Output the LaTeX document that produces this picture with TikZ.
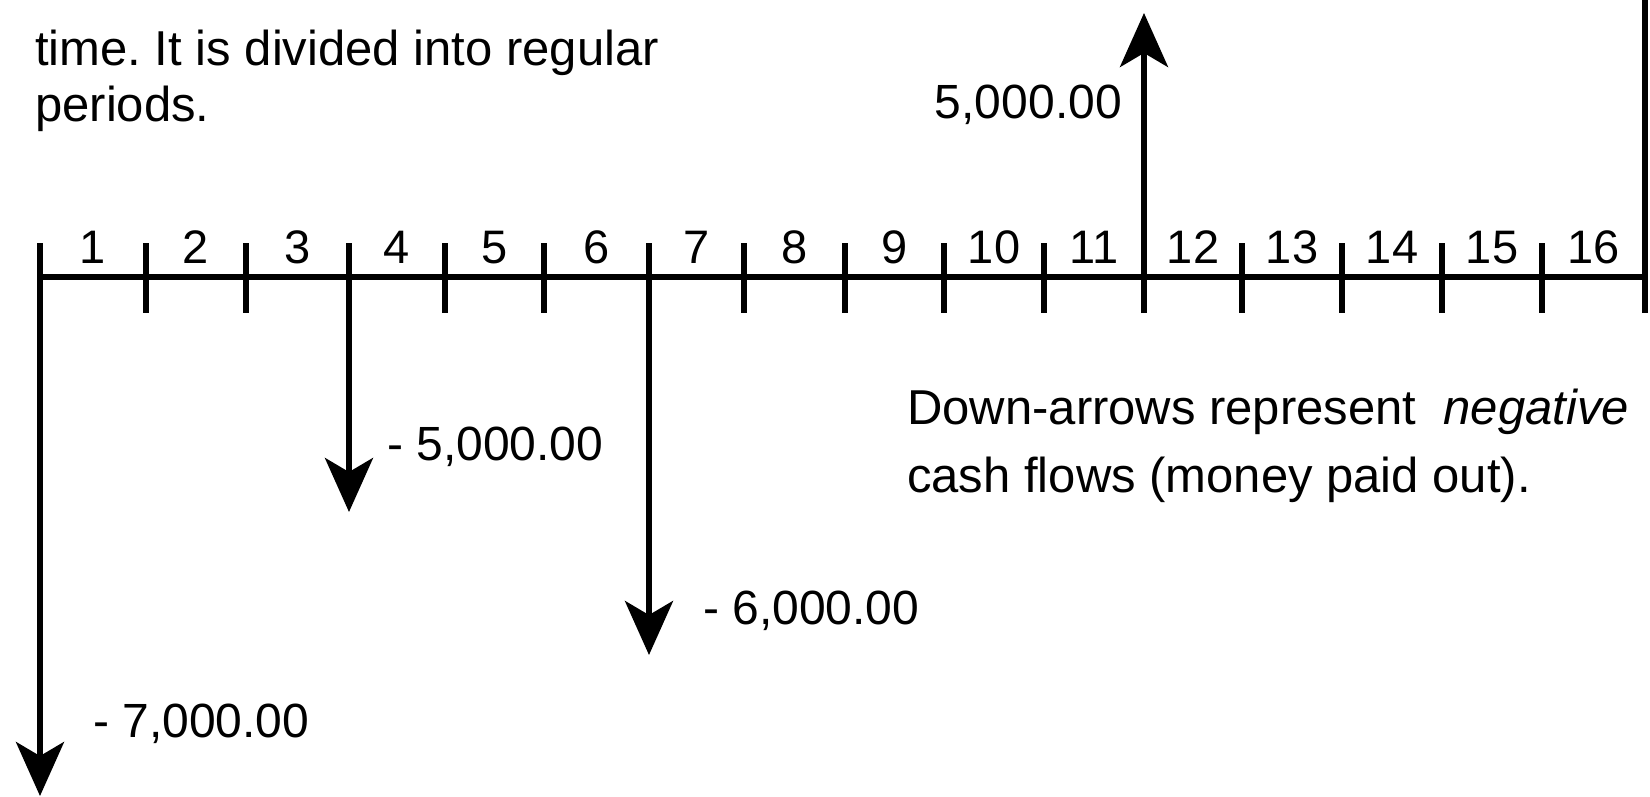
\documentclass[tikz,border=0pt]{standalone}
\usepackage{fontspec}
\setmainfont{Liberation Sans}
\usetikzlibrary{arrows.meta}
\frenchspacing
\begin{document}
\begin{tikzpicture}[x=1pt,y=-1pt,
  axisline/.style={line width=6.5pt},
  tickline/.style={line width=5.5pt},
  flow/.style={-{Stealth[length=54pt,width=48pt,inset=14pt]}, line width=5.5pt},
  txt/.style={inner sep=0pt, font=\fontsize{49}{56}\selectfont},
  num/.style={inner sep=0pt, font=\fontsize{48}{56}\selectfont},
  ticklbl/.style={inner sep=0pt, font=\fontsize{47}{52}\selectfont, anchor=base}]
\useasboundingbox (0,0) rectangle (1650,796);
% tick coordinates
\foreach \x [count=\i from 0] in {40,146,246,349,445,544,649,744,845,944,1044,1144,1242,1342,1442,1542,1645} {
  \coordinate (t\i) at (\x,277);
  \coordinate (tt\i) at (\x,243);
  \coordinate (tb\i) at (\x,313);
}
% end points of the arrows
\coordinate (e0) at (40,796);
\coordinate (e3) at (349,512);
\coordinate (e6) at (649,655);
\coordinate (e11) at (1144,13);
\coordinate (top16) at (1645,0);
% axis
\draw[axisline] (t0) -- (t16);
\foreach \i in {1,2,4,5,7,8,9,10,12,13,14,15} {
  \draw[tickline] (tt\i) -- (tb\i);
}
\draw[axisline] (top16) -- (tb16);
% cash flows
\draw[flow] (tt0) -- (e0);
\draw[flow] (tt3) -- (e3);
\draw[flow] (tt6) -- (e6);
\draw[flow] (tb11) -- (e11);
% period labels
\foreach \x [count=\i] in {93,196,297.5,397,494.5,596.5,696.5,794.5,894.5,994,1094,1193,1292,1392,1492,1593.5} {
  \node[ticklbl] (p\i) at (\x,263) {\i};
}
% texts
\node[txt, anchor=base west] (intro1) at (35,65) {time. It is divided into regular};
\node[txt, anchor=base west] (intro2) at (35,121) {periods.};
\node[txt, anchor=base west] (neg1) at (907,424) {Down-arrows represent\ \ \textit{negative}};
\node[txt, anchor=base west] (neg2) at (907,492) {cash flows (money paid out).};
% amounts
\node[num, anchor=base east] (v11) at (1122,118) {5,000.00};
\node[num, anchor=base west] (v3) at (387,460) {- 5,000.00};
\node[num, anchor=base west] (v6) at (703,624) {- 6,000.00};
\node[num, anchor=base west] (v0) at (93,737) {- 7,000.00};
\end{tikzpicture}
\end{document}
